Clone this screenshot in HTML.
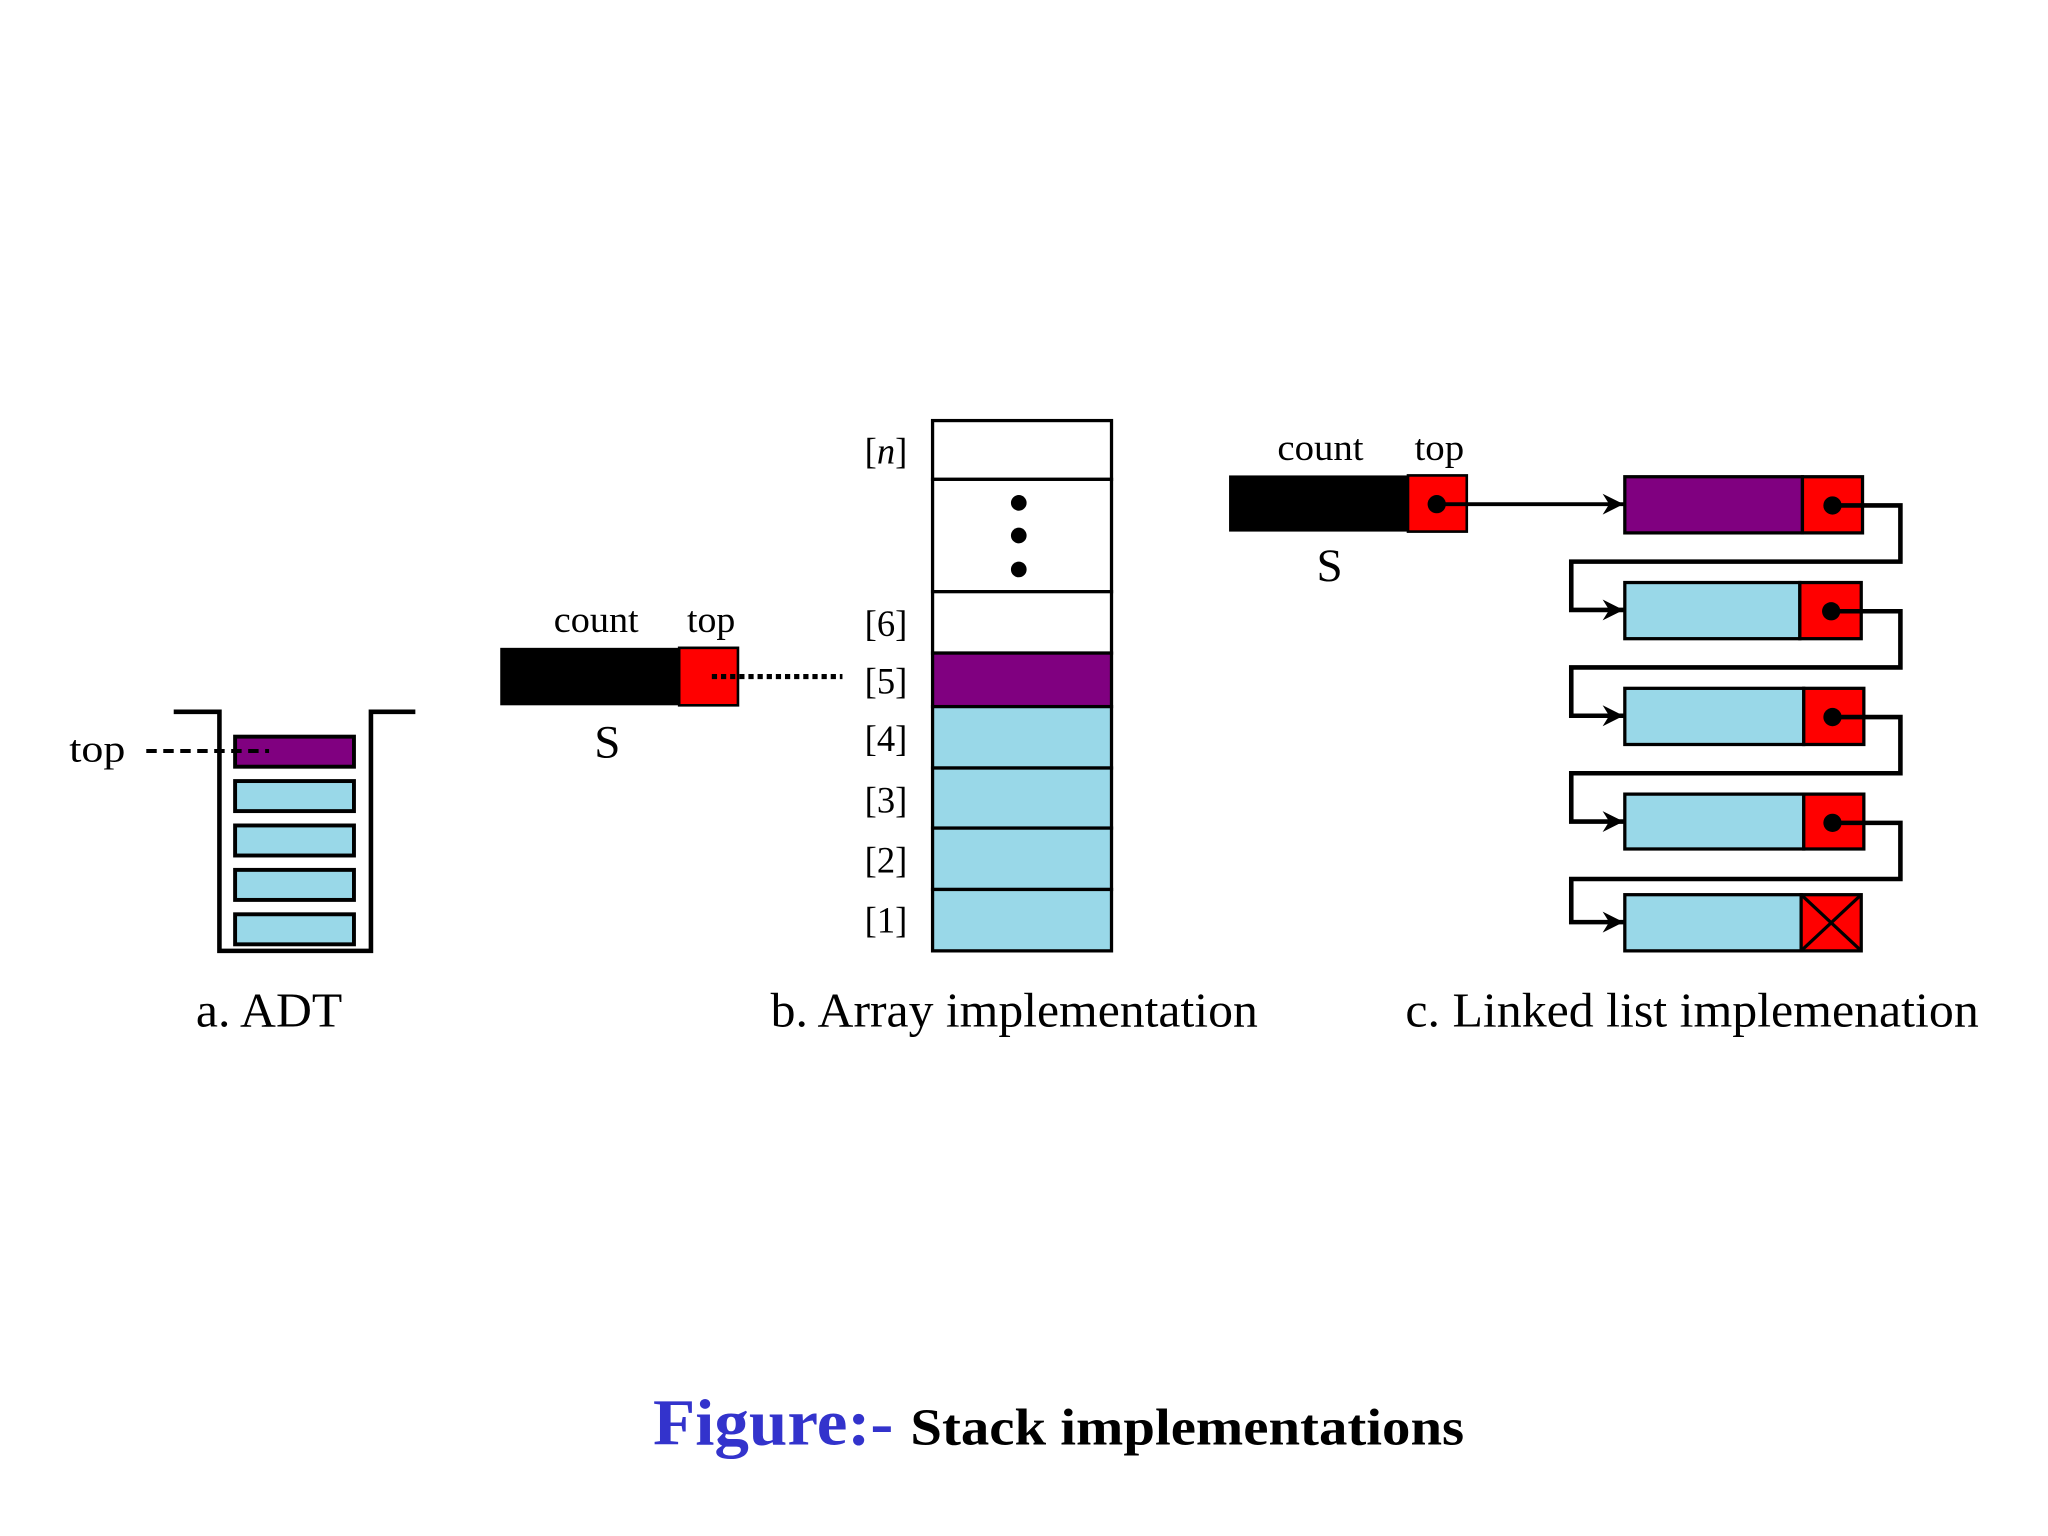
<!DOCTYPE html>
<html><head><style>html,body{margin:0;padding:0;background:#fff}svg{display:block}</style></head>
<body>
<svg width="2048" height="1536" viewBox="0 0 1568 1176" xmlns="http://www.w3.org/2000/svg" font-family="Liberation Serif, serif">
<defs>
<marker id="ah" markerWidth="18" markerHeight="18" refX="16" refY="9" orient="auto" markerUnits="userSpaceOnUse">
<path d="M0,1 L16,9 L0,17 L5,9 z" fill="#000"/>
</marker>
</defs>
<rect width="1568" height="1176" fill="#fff"/>
<!-- ADT -->
<polyline points="133,545 168,545 168,728 284,728 284,545 318,545" fill="none" stroke="#000" stroke-width="3.5"/>
<g stroke="#000" stroke-width="3">
<rect x="180" y="564" width="91" height="23" fill="#800080"/>
<rect x="180" y="598" width="91" height="23" fill="#99d8e8"/>
<rect x="180" y="632" width="91" height="23" fill="#99d8e8"/>
<rect x="180" y="666" width="91" height="23" fill="#99d8e8"/>
<rect x="180" y="700" width="91" height="23" fill="#99d8e8"/>
</g>
<line x1="112" y1="575" x2="206" y2="575" stroke="#000" stroke-width="3" stroke-dasharray="8,5"/>
<g lengthAdjust="spacingAndGlyphs">
<text x="53" y="583" font-size="29" textLength="43" lengthAdjust="spacingAndGlyphs">top</text>
<text x="150" y="786" font-size="37" textLength="112" lengthAdjust="spacingAndGlyphs">a. ADT</text>
</g>
<!-- Array -->
<rect x="383" y="496" width="137" height="44" fill="#000"/>
<rect x="520" y="496" width="45" height="44" fill="#f00" stroke="#000" stroke-width="2"/>
<text x="424" y="484" font-size="28" textLength="65" lengthAdjust="spacingAndGlyphs">count</text>
<text x="526" y="484" font-size="28" textLength="37" lengthAdjust="spacingAndGlyphs">top</text>
<text x="465" y="580" font-size="36" text-anchor="middle">S</text>
<line x1="545" y1="518" x2="645" y2="518" stroke="#000" stroke-width="4" stroke-dasharray="4,3"/>
<g stroke="#000" stroke-width="2.5">
<rect x="714" y="322" width="137" height="45" fill="#fff"/>
<rect x="714" y="367" width="137" height="86" fill="#fff"/>
<rect x="714" y="453" width="137" height="47" fill="#fff"/>
<rect x="714" y="500" width="137" height="41" fill="#800080"/>
<rect x="714" y="541" width="137" height="47" fill="#99d8e8"/>
<rect x="714" y="588" width="137" height="46" fill="#99d8e8"/>
<rect x="714" y="634" width="137" height="47" fill="#99d8e8"/>
<rect x="714" y="681" width="137" height="47" fill="#99d8e8"/>
</g>
<circle cx="780" cy="385" r="6"/><circle cx="780" cy="410" r="6"/><circle cx="780" cy="436" r="6"/>
<g font-size="28">
<text x="662" y="355">[<tspan font-style="italic">n</tspan>]</text>
<text x="662" y="487">[6]</text>
<text x="662" y="531">[5]</text>
<text x="662" y="575">[4]</text>
<text x="662" y="622">[3]</text>
<text x="662" y="668">[2]</text>
<text x="662" y="714">[1]</text>
</g>
<text x="590" y="786" font-size="37" textLength="373" lengthAdjust="spacingAndGlyphs">b. Array implementation</text>
<!-- Linked -->
<rect x="941" y="364" width="137" height="43" fill="#000"/>
<rect x="1078" y="364" width="45" height="43" fill="#f00" stroke="#000" stroke-width="2"/>
<text x="978" y="352" font-size="28" textLength="66" lengthAdjust="spacingAndGlyphs">count</text>
<text x="1083" y="352" font-size="28" textLength="38" lengthAdjust="spacingAndGlyphs">top</text>
<text x="1018" y="445" font-size="36" text-anchor="middle">S</text>
<circle cx="1100" cy="386" r="7"/>
<line x1="1100" y1="386" x2="1243" y2="386" stroke="#000" stroke-width="3" marker-end="url(#ah)"/>
<g stroke="#000" stroke-width="2.5">
<rect x="1244" y="365" width="136" height="43" fill="#800080"/><rect x="1380" y="365" width="46" height="43" fill="#f00"/>
<rect x="1244" y="446" width="134" height="43" fill="#99d8e8"/><rect x="1378" y="446" width="47" height="43" fill="#f00"/>
<rect x="1244" y="527" width="137" height="43" fill="#99d8e8"/><rect x="1381" y="527" width="46" height="43" fill="#f00"/>
<rect x="1244" y="608" width="137" height="42" fill="#99d8e8"/><rect x="1381" y="608" width="46" height="42" fill="#f00"/>
<rect x="1244" y="685" width="135" height="43" fill="#99d8e8"/><rect x="1379" y="685" width="46" height="43" fill="#f00"/>
<line x1="1379" y1="685" x2="1425" y2="728"/><line x1="1425" y1="685" x2="1379" y2="728"/>
</g>
<g fill="none" stroke="#000" stroke-width="3.5">
<polyline points="1403,387 1455,387 1455,430 1203,430 1203,467 1243,467" marker-end="url(#ah)"/>
<polyline points="1402,468 1455,468 1455,511 1203,511 1203,548 1243,548" marker-end="url(#ah)"/>
<polyline points="1403,549 1455,549 1455,592 1203,592 1203,629 1243,629" marker-end="url(#ah)"/>
<polyline points="1403,630 1455,630 1455,673 1203,673 1203,706 1243,706" marker-end="url(#ah)"/>
</g>
<circle cx="1403" cy="387" r="7"/><circle cx="1402" cy="468" r="7"/><circle cx="1403" cy="549" r="7"/><circle cx="1403" cy="630" r="7"/>
<text x="1076" y="786" font-size="37" textLength="439" lengthAdjust="spacingAndGlyphs">c. Linked list implemenation</text>
<!-- caption -->
<text x="500" y="1106" font-size="50" font-weight="bold" fill="#3333cc" textLength="184" lengthAdjust="spacingAndGlyphs">Figure:-</text>
<text x="697" y="1106" font-size="40" font-weight="bold" fill="#000" textLength="424" lengthAdjust="spacingAndGlyphs">Stack implementations</text>
</svg>
</body></html>
